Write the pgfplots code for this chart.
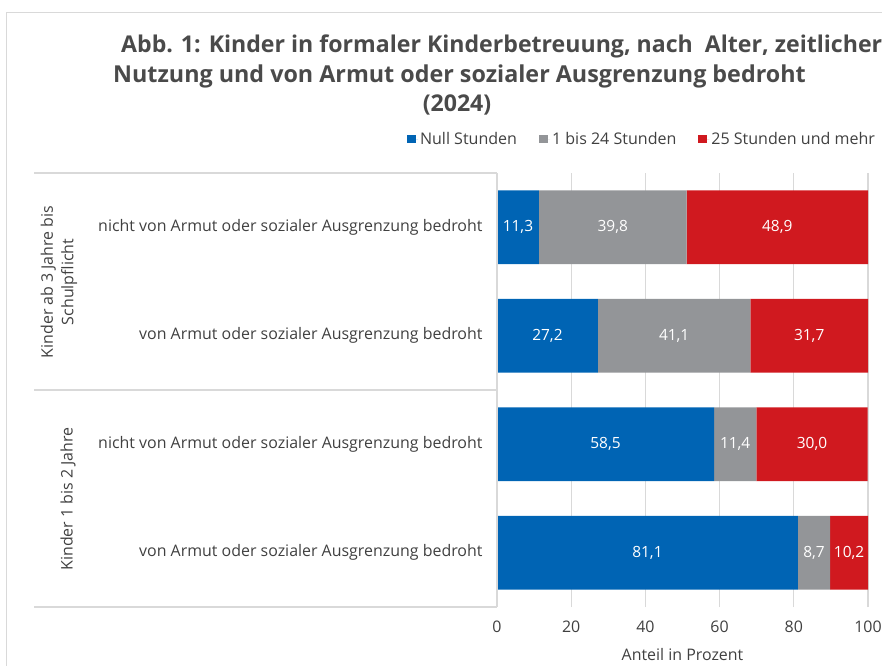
\documentclass[border=0pt]{standalone}
\usepackage{fontspec}
\setmainfont{Open Sans}
\usepackage{pgfplots}
\usepackage{pgfplotstable}
\pgfplotsset{compat=1.18}
\definecolor{cblue}{HTML}{0064B4}
\definecolor{cgray}{HTML}{939598}
\definecolor{cred}{HTML}{D0191F}
\definecolor{txt}{HTML}{404040}
\definecolor{ttl}{HTML}{4A4A4A}
\definecolor{grd}{HTML}{D9D9D9}

\pgfplotstableread{
y v
0 81.1
1 58.5
2 27.2
3 11.3
}\nullst
\pgfplotstableread{
y v
0 8.7
1 11.4
2 41.1
3 39.8
}\eins
\pgfplotstableread{
y v
0 10.2
1 30.0
2 31.7
3 48.9
}\fuenf

\begin{document}
\begin{tikzpicture}
\path[use as bounding box] (0bp,0bp) rectangle (882bp,666bp);
\clip (0bp,0bp) rectangle (882bp,666bp);
\draw[color=grd, line width=1.5bp] (6.5bp,0bp) -- (6.5bp,653.5bp) -- (890bp,653.5bp);
\node[anchor=base west, inner sep=0pt, font=\bfseries\fontsize{23.2}{27}\selectfont, text=ttl] at (121bp,613bp) {Abb. 1: Kinder in formaler Kinderbetreuung, nach\ \ Alter, zeitlicher};
\node[anchor=base west, inner sep=0pt, font=\bfseries\fontsize{23.4}{27}\selectfont, text=ttl] at (113bp,583bp) {Nutzung und von Armut oder sozialer Ausgrenzung bedroht};
\node[anchor=base, inner sep=0pt, font=\bfseries\fontsize{23.2}{27}\selectfont, text=ttl] at (457bp,554bp) {(2024)};
\begin{axis}[
  at={(497bp,59bp)}, anchor=south west,
  scale only axis, width=371bp, height=434bp,
  xbar stacked, bar width=0.68,
  xmin=0, xmax=100, ymin=-0.5, ymax=3.5,
  xtick={0,20,40,60,80,100}, ytick={0,1,2,3},
  yticklabels={von Armut oder sozialer Ausgrenzung bedroht, nicht von Armut oder sozialer Ausgrenzung bedroht, von Armut oder sozialer Ausgrenzung bedroht, nicht von Armut oder sozialer Ausgrenzung bedroht},
  axis line style={draw=none},
  major tick length=0pt, tick style={draw=none},
  xmajorgrids, major grid style={color=grd, line width=1.3bp},
  /pgf/number format/assume math mode=true,
  xticklabel style={font=\fontsize{16}{19}\selectfont, text=txt, yshift=-10bp},
  yticklabel style={font=\fontsize{16}{19}\selectfont, text=txt, xshift=-11bp},
  xlabel={Anteil in Prozent},
  xlabel style={at={(axis description cs:0.5,-0.1106)}, anchor=center, font=\fontsize{16}{19}\selectfont, text=txt},
  legend style={at={(axis description cs:1.0245,1.078)}, anchor=east, draw=none, fill=none,
    font=\fontsize{16.1}{19}\selectfont, text=txt, legend columns=-1, inner sep=0pt,
    /tikz/every even column/.append style={column sep=20bp}},
  legend image code/.code={\fill[#1] (0bp,-4.25bp) rectangle (8.5bp,4.25bp); \path (0bp,0bp) -- (11bp,0bp);},
  point meta=explicit,
  nodes near coords={\pgfmathprintnumber[use comma,fixed,fixed zerofill,precision=1]{\pgfplotspointmeta}},
  every node near coord/.append style={anchor=center, text=white, font=\fontsize{15.5}{18}\selectfont},
]
\addplot[fill=cblue, draw=none] table[x=v, y=y, meta=v] {\nullst};
\addlegendentry{Null Stunden}
\addplot[fill=cgray, draw=none] table[x=v, y=y, meta=v] {\eins};
\addlegendentry{1 bis 24 Stunden}
\addplot[fill=cred, draw=none] table[x=v, y=y, meta=v] {\fuenf};
\addlegendentry{25 Stunden und mehr}
\end{axis}
\draw[color=grd, line width=1.3bp] (34bp,493bp) -- (497bp,493bp);
\draw[color=grd, line width=1.3bp] (34bp,276bp) -- (497bp,276bp);
\draw[color=grd, line width=1.3bp] (34bp,59bp) -- (497bp,59bp);
\draw[color=grd, line width=1.3bp] (497bp,59bp) -- (497bp,493bp);
\node[rotate=90, align=center, font=\fontsize{16}{20.5}\selectfont, text=txt] at (59bp,384bp) {Kinder ab 3 Jahre bis\\Schulpflicht};
\node[rotate=90, font=\fontsize{16}{20.5}\selectfont, text=txt] at (68bp,167bp) {Kinder 1 bis 2 Jahre};
\end{tikzpicture}
\end{document}
